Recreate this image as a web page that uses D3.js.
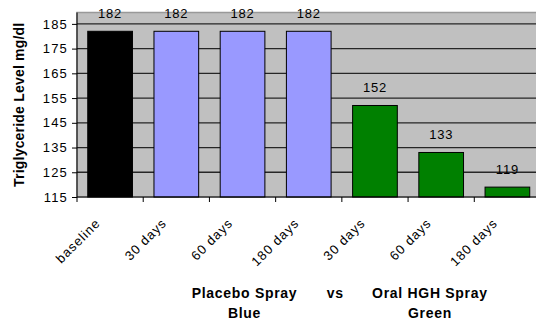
<!DOCTYPE html>
<html>
<head>
<meta charset="utf-8">
<script src="https://cdn.jsdelivr.net/npm/d3@7"></script>
<style>
  body { margin: 0; background: #fff; }
  svg { display: block; font-family: Arial, "Liberation Sans", sans-serif; }
</style>
</head>
<body>
<div id="chart"></div>
<script>
// chart data
const categories = ["baseline", "30 days", "60 days", "180 days", "30 days ", "60 days ", "180 days "];
const values = [182, 182, 182, 182, 152, 133, 119];
const barColors = ["#000000", "#9999ff", "#9999ff", "#9999ff", "#008000", "#008000", "#008000"];
const yTicks = [115, 125, 135, 145, 155, 165, 175, 185];
const groupNotes = [
  { at: 2.53, lines: ["Placebo Spray", "Blue"] },
  { at: 3.9, lines: ["vs"] },
  { at: 5.33, lines: ["Oral HGH Spray", "Green"] }
];

const width = 536, height = 325;
const margin = { top: 12.5, left: 77, right: -4.5, bottom: 128 };
const innerW = width - margin.left - margin.right;
const innerH = height - margin.top - margin.bottom;

const svg = d3.select("#chart").append("svg")
  .attr("width", width).attr("height", height);

const g = svg.append("g")
  .attr("transform", `translate(${margin.left},${margin.top})`);

const x = d3.scaleBand()
  .domain(categories)
  .range([0, innerW])
  .paddingInner(0.325)
  .paddingOuter(0.1625);

const y = d3.scaleLinear()
  .domain([115, 189.6])
  .range([innerH, 0]);

// plot background
g.append("rect")
  .attr("width", innerW).attr("height", innerH)
  .attr("fill", "#c0c0c0")
  .attr("stroke", "#999").attr("stroke-width", 1.5);

// gridlines
g.selectAll(".grid")
  .data(yTicks.slice(1))
  .enter().append("line")
  .attr("class", "grid")
  .attr("x1", 0).attr("x2", innerW)
  .attr("y1", d => y(d)).attr("y2", d => y(d))
  .attr("stroke", "#262626").attr("stroke-width", 1.3);

// bars
g.selectAll(".bar")
  .data(values)
  .enter().append("rect")
  .attr("class", "bar")
  .attr("x", (d, i) => x(categories[i]))
  .attr("y", d => y(d))
  .attr("width", x.bandwidth())
  .attr("height", d => innerH - y(d))
  .attr("fill", (d, i) => barColors[i])
  .attr("stroke", "#000").attr("stroke-width", 1);

// value labels
g.selectAll(".val")
  .data(values)
  .enter().append("text")
  .attr("class", "val")
  .attr("x", (d, i) => x(categories[i]) + x.bandwidth() / 2)
  .attr("y", d => y(d) - 13)
  .attr("text-anchor", "middle")
  .attr("font-size", 13)
  .attr("letter-spacing", 0.8)
  .attr("fill", "#000")
  .text(d => d);

// y axis
const yAxis = g.append("g")
  .call(d3.axisLeft(y).tickValues(yTicks).tickSize(5).tickPadding(4));
yAxis.select(".domain").attr("stroke", "#000").attr("d", `M0,${innerH}V0`);
yAxis.selectAll("text").attr("font-size", 13).attr("fill", "#000")
  .attr("letter-spacing", 1.2)
  .attr("font-family", "Arial, 'Liberation Sans', sans-serif");

// x axis: ticks at category boundaries
const step = x.step();
const xAxis = g.append("g").attr("transform", `translate(0,${innerH})`);
xAxis.append("line")
  .attr("x1", 0).attr("x2", innerW)
  .attr("stroke", "#000");
xAxis.selectAll(".tick")
  .data(categories)
  .enter().append("line")
  .attr("x1", (d, i) => x(d) - step * x.paddingInner() / 2)
  .attr("x2", (d, i) => x(d) - step * x.paddingInner() / 2)
  .attr("y1", 0).attr("y2", 5)
  .attr("stroke", "#000");
xAxis.selectAll(".lbl")
  .data(categories)
  .enter().append("text")
  .attr("transform", d => `translate(${x(d) + x.bandwidth() / 2 - 9},${27}) rotate(-45)`)
  .attr("text-anchor", "end")
  .attr("font-size", 13)
  .attr("letter-spacing", 1)
  .attr("fill", "#000")
  .text(d => d.trim());

// group notes under the axis
groupNotes.forEach(n => {
  const cx = margin.left + step * n.at;
  n.lines.forEach((t, k) => {
    svg.append("text")
      .attr("x", cx).attr("y", 298 + k * 20)
      .attr("text-anchor", "middle")
      .attr("font-size", 14).attr("font-weight", "bold")
      .attr("letter-spacing", 0.7)
      .text(t);
  });
});

// y axis title
svg.append("text")
  .attr("transform", `translate(24,${margin.top + innerH / 2}) rotate(-90)`)
  .attr("text-anchor", "middle")
  .attr("font-size", 14).attr("font-weight", "bold")
  .attr("letter-spacing", 0.2)
  .text("Triglyceride Level mg/dl");
</script>
</body>
</html>
